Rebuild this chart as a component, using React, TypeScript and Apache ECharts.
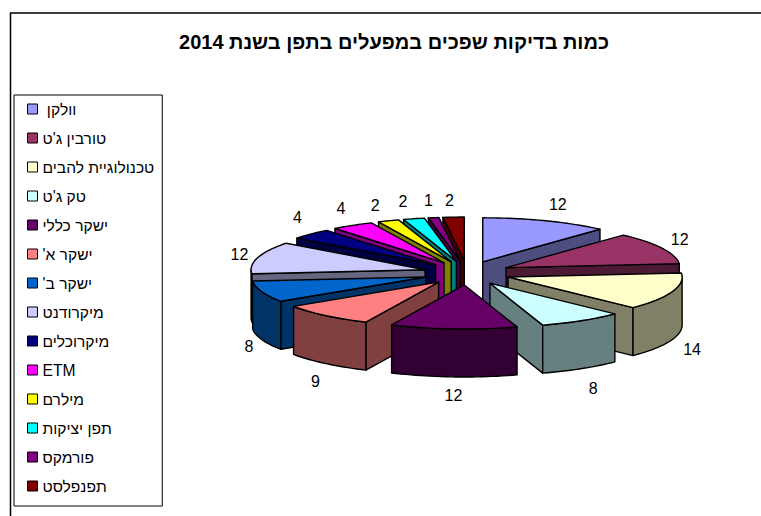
import React, { useEffect, useRef } from "react";
import * as echarts from "echarts";

const titleText = "כמות בדיקות שפכים במפעלים בתפן בשנת 2014";
const categories = ["וולקן", "טורבין ג'ט", "טכנולוגיית להבים", "טק ג'ט", "ישקר כללי", "ישקר א'", "ישקר ב'", "מיקרודנט", "מיקרוכלים", "ETM", "מילרם", "תפן יציקות", "פורמקס", "תפנפלסט"];
const values = [12, 12, 14, 8, 12, 9, 8, 12, 4, 4, 2, 2, 1, 2];
const colors = ["#9999FF", "#993366", "#FFFFCC", "#CCFFFF", "#660066", "#FF8080", "#0066CC", "#CCCCFF", "#000080", "#FF00FF", "#FFFF00", "#00FFFF", "#800080", "#800000"];
const labelNudge = [[5, 3], [0, 1], [1, 3], [1, 2], [1, -2], [3, 2], [6, 0], [1, 3], [1, -2], [-1, 1], [-6, 4], [-6, 3], [-2, 4], [-3, 4]];

const FONT = "'Liberation Sans', Arial, sans-serif";
const RLM = "\u200F";
const W = 761, H = 516;
const pie = { cx: 467, cy: 273, rx: 174, ry: 44, ex: 43.6, ey: 12, depth: 48, lx: 194, ly: 65 };
const total = values.reduce((a, b) => a + b, 0);
const rad = (v: number) => (v / total) * Math.PI * 2;

function darken(hex: string) {
  const n = parseInt(hex.slice(1), 16);
  const c = [(n >> 16) & 255, (n >> 8) & 255, n & 255].map((x) => Math.round(x / 2));
  return `rgb(${c[0]},${c[1]},${c[2]})`;
}

function arc(ax: number, ay: number, a0: number, a1: number, dy: number) {
  const steps = Math.max(2, Math.ceil(Math.abs(a1 - a0) / 0.03));
  const pts: number[][] = [];
  for (let i = 0; i <= steps; i++) {
    const t = a0 + ((a1 - a0) * i) / steps;
    pts.push([ax + Math.sin(t) * pie.rx, ay - Math.cos(t) * pie.ry + dy]);
  }
  return pts;
}

function sliceItem(index: number) {
  return (_params: any, api: any) => {
    const value = api.value(0);
    const before = values.slice(0, index).reduce((a, b) => a + b, 0);
    const a0 = rad(before);
    const a1 = a0 + rad(value);
    const mid = (a0 + a1) / 2;
    const ax = pie.cx + Math.sin(mid) * pie.ex;
    const ay = pie.cy - Math.cos(mid) * pie.ey;
    const d = pie.depth;
    const line = { stroke: "#000", lineWidth: 1.4, lineJoin: "round" };
    const side = { fill: darken(colors[index]), ...line };
    const children: any[] = [];
    const radial = (t: number) => {
      const p = [ax + Math.sin(t) * pie.rx, ay - Math.cos(t) * pie.ry];
      children.push({
        type: "polygon",
        shape: { points: [[ax, ay], p, [p[0], p[1] + d], [ax, ay + d]] },
        style: side,
      });
    };
    if (Math.sin(a0) < -1e-6) radial(a0);
    if (Math.sin(a1) > 1e-6) radial(a1);
    const w0 = Math.max(a0, Math.PI / 2);
    const w1 = Math.min(a1, (Math.PI * 3) / 2);
    if (w1 > w0) {
      children.push({
        type: "polygon",
        shape: { points: [...arc(ax, ay, w0, w1, 0), ...arc(ax, ay, w1, w0, d)] },
        style: side,
      });
    }
    children.push({
      type: "polygon",
      shape: { points: [[ax, ay], ...arc(ax, ay, a0, a1, 0)] },
      style: { fill: colors[index], ...line },
    });
    const front = Math.cos(mid) < 0 ? d : 0;
    children.push({
      type: "text",
      x: ax + Math.sin(mid) * pie.lx + labelNudge[index][0],
      y: ay - Math.cos(mid) * pie.ly + front + labelNudge[index][1],
      style: { text: String(value), fill: "#000", font: `16px ${FONT}`, align: "center", verticalAlign: "middle" },
    });
    return { type: "group", children };
  };
}

const paintOrder = categories
  .map((_, i) => {
    const before = values.slice(0, i).reduce((a, b) => a + b, 0);
    return { i, depthKey: -Math.cos(rad(before + values[i] / 2)) };
  })
  .sort((a, b) => a.depthKey - b.depthKey);

export default function App() {
  const ref = useRef<HTMLDivElement>(null);
  useEffect(() => {
    const chart = echarts.init(ref.current!, null, { renderer: "svg" });
    chart.setOption({
      animation: false,
      backgroundColor: "#fff",
      title: {
        text: titleText + RLM,
        left: 394,
        top: 32,
        padding: 0,
        textAlign: "center",
        textStyle: { fontFamily: FONT, fontWeight: "bold", fontSize: 20, color: "#000" },
      },
      legend: {
        orient: "vertical",
        left: 14,
        top: 95,
        padding: [6, 8, 12, 13],
        itemWidth: 10,
        itemHeight: 10,
        itemGap: 13,
        icon: "rect",
        align: "left",
        selectedMode: false,
        borderColor: "#000",
        borderWidth: 1,
        data: categories,
        formatter: (n: string) => (n === categories[0] ? "\u00A0" + n : n) + RLM,
        itemStyle: { borderColor: "#000", borderWidth: 1 },
        textStyle: { fontFamily: FONT, fontSize: 15.6, color: "#000" },
      },
      graphic: [
        {
          type: "polyline",
          silent: true,
          shape: { points: [[W, 13], [10.5, 13], [10.5, H]] },
          style: { stroke: "#000", lineWidth: 1.5, fill: "none" },
        },
      ],
      series: paintOrder.map(({ i }, order) => ({
        type: "custom",
        name: categories[i],
        coordinateSystem: "none",
        silent: true,
        z: 2 + order,
        itemStyle: { color: colors[i] },
        renderItem: sliceItem(i),
        data: [[values[i]]],
      })),
    });
    return () => chart.dispose();
  }, []);
  return <div ref={ref} style={{ position: "absolute", left: 0, top: 0, width: W, height: H }} />;
}
